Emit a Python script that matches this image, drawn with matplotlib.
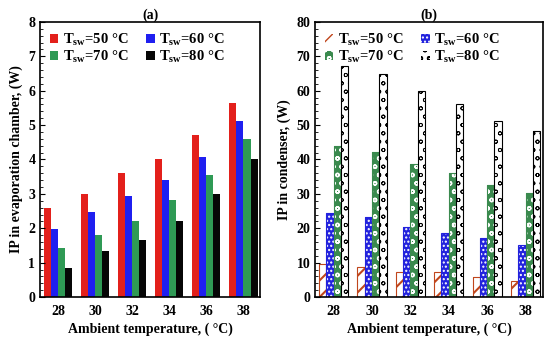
import matplotlib
matplotlib.use("Agg")
import matplotlib.pyplot as plt
import numpy as np
from matplotlib.ticker import MultipleLocator

plt.rcParams['font.family'] = ['Liberation Serif', 'DejaVu Serif']
plt.rcParams['font.weight'] = 'bold'
plt.rcParams['mathtext.fontset'] = 'custom'
plt.rcParams['mathtext.rm'] = 'Liberation Serif'
plt.rcParams['mathtext.it'] = 'Liberation Serif:italic'
plt.rcParams['mathtext.bf'] = 'Liberation Serif:bold'
plt.rcParams['hatch.linewidth'] = 1.0

ambient = ['28', '30', '32', '34', '36', '38']
series_labels = [r'T$_{\rm sw}$=50 °C', r'T$_{\rm sw}$=60 °C', r'T$_{\rm sw}$=70 °C', r'T$_{\rm sw}$=80 °C']

evap_50 = [2.6, 3.0, 3.6, 4.0, 4.7, 5.65]
evap_60 = [1.97, 2.47, 2.93, 3.4, 4.08, 5.12]
evap_70 = [1.42, 1.8, 2.2, 2.83, 3.55, 4.6]
evap_80 = [0.85, 1.35, 1.65, 2.2, 3.0, 4.0]

cond_50 = [9.5, 8.7, 7.4, 7.2, 5.8, 4.7]
cond_60 = [24.5, 23.2, 20.5, 18.7, 17.2, 15.0]
cond_70 = [44.0, 42.3, 38.8, 36.0, 32.7, 30.2]
cond_80 = [67.3, 65.0, 60.0, 56.0, 51.3, 48.2]

fig = plt.figure(figsize=(5.5, 3.43), dpi=100)
axa = fig.add_axes([0.073, 0.134, 0.400, 0.802])
axb = fig.add_axes([0.573, 0.134, 0.414, 0.802])

x = np.arange(len(ambient))
w = 0.19
offs = np.array([-1.5, -0.5, 0.5, 1.5]) * w
order = [0, 2, 1, 3]

def style_axes(ax, ymax, major, minor, ylabel, title):
    ax.set_ylim(0, ymax)
    ax.set_xlim(-0.48, 5.45)
    ax.set_xticks(x)
    ax.set_xticklabels(ambient)
    ax.yaxis.set_major_locator(MultipleLocator(major))
    ax.yaxis.set_minor_locator(MultipleLocator(minor))
    ax.tick_params(axis='both', direction='in', labelsize=10)
    ax.tick_params(axis='x', length=0, pad=6)
    ax.tick_params(axis='y', which='minor', length=2, direction='in')
    ax.set_ylabel(ylabel, fontsize=10, fontweight='bold')
    ax.set_xlabel('Ambient temperature, ( °C)', fontsize=10, fontweight='bold', labelpad=3)
    ax.set_title(title, fontsize=10, fontweight='bold', pad=2)
    h, l = ax.get_legend_handles_labels()
    ax.legend([h[i] for i in order], [l[i] for i in order], ncol=2, loc='upper left',
              frameon=False, fontsize=10.5, handlelength=0.6, handleheight=0.6,
              handletextpad=0.3, columnspacing=1.2, labelspacing=0.1, borderaxespad=0.25)
    for s in ax.spines.values():
        s.set_linewidth(1.2)

# (a)
cols_a = ['#e3201b', '#1f1ff0', '#2f9a55', '#060606']
for i, (vals, c, lab) in enumerate(zip([evap_50, evap_60, evap_70, evap_80], cols_a, series_labels)):
    axa.bar(x + offs[i], vals, w, color=c, label=lab, linewidth=0)
style_axes(axa, 8, 1, 0.2, 'IP in evaporation chamber, (W)', '(a)')

# (b)
face_b = ['white', '#2222dd', '#3a8a4e', 'white']
hatch_col = ['#c0461c', 'white', 'white', 'black']
edge_b = ['#c0461c', '#2222dd', '#3a8a4e', 'black']
hatches = ['//', '....', 'oo', 'oo']
hatch_lw = [1.5, 1.0, 1.0, 0.6]
for i, vals in enumerate([cond_50, cond_60, cond_70, cond_80]):
    bars = axb.bar(x + offs[i], vals, w, facecolor=face_b[i], edgecolor=hatch_col[i],
                   hatch=hatches[i], linewidth=0, label=series_labels[i])
    for b in bars:
        if hasattr(b, 'set_hatch_linewidth'):
            b.set_hatch_linewidth(hatch_lw[i])
    axb.bar(x + offs[i], vals, w, fill=False, edgecolor=edge_b[i], linewidth=0.8)
style_axes(axb, 80, 10, 2, 'IP in condenser, (W)', '(b)')

fig.savefig('out.png', dpi=100)
